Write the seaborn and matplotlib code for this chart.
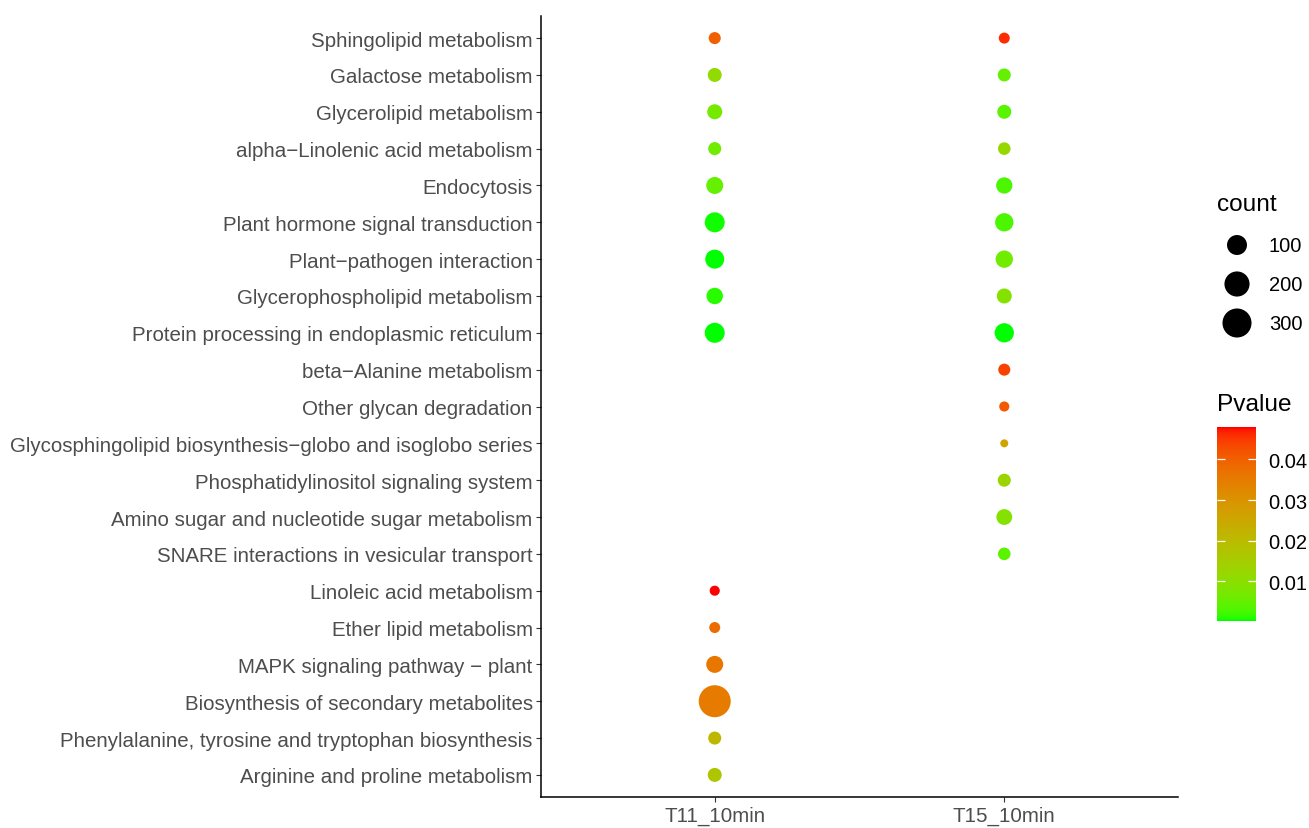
import numpy as np
import pandas as pd
import matplotlib
matplotlib.use("Agg")
import matplotlib.pyplot as plt
import seaborn as sns
from matplotlib.colors import ListedColormap, Normalize
from matplotlib.cm import ScalarMappable

# ---------------- data ----------------
terms = [
    "Sphingolipid metabolism",
    "Galactose metabolism",
    "Glycerolipid metabolism",
    "alpha\u2212Linolenic acid metabolism",
    "Endocytosis",
    "Plant hormone signal transduction",
    "Plant\u2212pathogen interaction",
    "Glycerophospholipid metabolism",
    "Protein processing in endoplasmic reticulum",
    "beta\u2212Alanine metabolism",
    "Other glycan degradation",
    "Glycosphingolipid biosynthesis\u2212globo and isoglobo series",
    "Phosphatidylinositol signaling system",
    "Amino sugar and nucleotide sugar metabolism",
    "SNARE interactions in vesicular transport",
    "Linoleic acid metabolism",
    "Ether lipid metabolism",
    "MAPK signaling pathway \u2212 plant",
    "Biosynthesis of secondary metabolites",
    "Phenylalanine, tyrosine and tryptophan biosynthesis",
    "Arginine and proline metabolism",
]
groups = ["T11_10min", "T15_10min"]

t11_count = [15, 28, 37, 21, 58, 100, 85, 52, 100,
             None, None, None, None, None, None,
             7, 10, 58, 389, 21, 28]
t11_p = [0.040, 0.011, 0.007, 0.006, 0.005, 0.0005, 0.0003, 0.001, 0.0002,
         None, None, None, None, None, None,
         0.048, 0.038, 0.036, 0.035, 0.021, 0.017]

t15_count = [10, 21, 28, 18, 50, 75, 62, 37, 89,
             15, 7, 4, 21, 45, 18,
             None, None, None, None, None, None]
t15_p = [0.046, 0.005, 0.004, 0.012, 0.003, 0.003, 0.006, 0.009, 0.0003,
         0.044, 0.041, 0.026, 0.013, 0.009, 0.004,
         None, None, None, None, None, None]

size_breaks = [100, 200, 300]
p_ticks = [0.01, 0.02, 0.03, 0.04]

rows = []
for i, term in enumerate(terms):
    for g, cnts, pvs in ((groups[0], t11_count, t11_p), (groups[1], t15_count, t15_p)):
        if cnts[i] is not None:
            rows.append({"group": g, "term": term, "count": cnts[i], "pvalue": pvs[i]})
df = pd.DataFrame(rows)

# ---------------- colour scale (Lab interpolation green -> red) ----------------
M = np.array([[0.4124564, 0.3575761, 0.1804375],
              [0.2126729, 0.7151522, 0.0721750],
              [0.0193339, 0.1191920, 0.9503041]])
Minv = np.linalg.inv(M)
WHITE = np.array([0.95047, 1.0, 1.08883])


def srgb_to_lab(rgb):
    rgb = np.asarray(rgb, float)
    lin = np.where(rgb <= 0.04045, rgb / 12.92, ((rgb + 0.055) / 1.055) ** 2.4)
    xyz = M @ lin / WHITE
    d = 6 / 29
    f = np.where(xyz > d ** 3, np.cbrt(xyz), xyz / (3 * d * d) + 4 / 29)
    return np.array([116 * f[1] - 16, 500 * (f[0] - f[1]), 200 * (f[1] - f[2])])


def lab_to_srgb(lab):
    L, a, b = lab
    fy = (L + 16) / 116
    fx = fy + a / 500
    fz = fy - b / 200
    d = 6 / 29
    f = np.array([fx, fy, fz])
    xyz = np.where(f > d, f ** 3, 3 * d * d * (f - 4 / 29)) * WHITE
    lin = Minv @ xyz
    lin = np.clip(lin, 0, 1)
    rgb = np.where(lin <= 0.0031308, 12.92 * lin, 1.055 * lin ** (1 / 2.4) - 0.055)
    return np.clip(rgb, 0, 1)


lab_lo = srgb_to_lab([0, 1, 0])
lab_hi = srgb_to_lab([1, 0, 0])
cols = [lab_to_srgb(lab_lo + t * (lab_hi - lab_lo)) for t in np.linspace(0, 1, 256)]
cmap = ListedColormap(cols)

pmin, pmax = df["pvalue"].min(), df["pvalue"].max()
norm = Normalize(pmin, pmax)

# ---------------- size scale ----------------
cmin, cmax = df["count"].min(), df["count"].max()


def diam_px(c):
    return 8 + 24 * np.sqrt((np.asarray(c, float) - cmin) / (cmax - cmin))


sizes = {c: float((diam_px(c) * 0.72) ** 2) for c in df["count"].unique()}

# ---------------- figure ----------------
plt.rcParams["font.family"] = ["Liberation Sans", "DejaVu Sans"]
W, H = 1309, 829
fig = plt.figure(figsize=(W / 100, H / 100), dpi=100)
ax = fig.add_axes([541 / W, 1 - 798 / H, (1178 - 541) / W, (798 - 17) / H])

sns.scatterplot(data=df, x="group", y="term", hue="pvalue", palette=cmap,
                hue_norm=(pmin, pmax), size="count", sizes=sizes,
                linewidth=0, legend=False, ax=ax)

ax.set_xlim(-0.6, 1.6)
ax.set_ylim(len(terms) - 1 + 0.6, -0.6)
ax.set_xlabel("")
ax.set_ylabel("")
for s in ("top", "right"):
    ax.spines[s].set_visible(False)
for s in ("left", "bottom"):
    ax.spines[s].set_color("black")
    ax.spines[s].set_linewidth(1.1)
ax.tick_params(axis="both", length=3.5, width=0.8, color="#333333",
               labelcolor="#4D4D4D", labelsize=14.8)
ax.tick_params(axis="y", pad=2.5)
ax.tick_params(axis="x", pad=3)
ax.grid(False)

# ---------------- size legend ----------------
lax = fig.add_axes([0, 0, 1, 1])
lax.set_xlim(0, W)
lax.set_ylim(H, 0)
lax.axis("off")
lax.text(1217, 205, "count", fontsize=17.6, va="center", ha="left", color="black")
leg_y = [246, 285, 324]
lax.scatter([1237] * len(size_breaks), leg_y,
            s=(diam_px(size_breaks) * 0.72) ** 2, color="black", linewidths=0)
for yy, b in zip(leg_y, size_breaks):
    lax.text(1269, yy, str(b), fontsize=14.5, va="center", ha="left", color="black")
lax.text(1217, 405, "Pvalue", fontsize=17.6, va="center", ha="left", color="black")

# ---------------- colour bar ----------------
cax = fig.add_axes([1217 / W, 1 - 622 / H, 39 / W, 194 / H])
cb = fig.colorbar(ScalarMappable(norm=norm, cmap=cmap), cax=cax)
cb.outline.set_visible(False)
cb.set_ticks(p_ticks)
cb.set_ticklabels([f"{t:.2f}" for t in p_ticks])
cax.tick_params(direction="in", color="white", length=5.6, width=0.9,
                left=True, right=True, labelsize=14.5, pad=8.6, labelcolor="black")

fig.savefig("out.png", dpi=100)
